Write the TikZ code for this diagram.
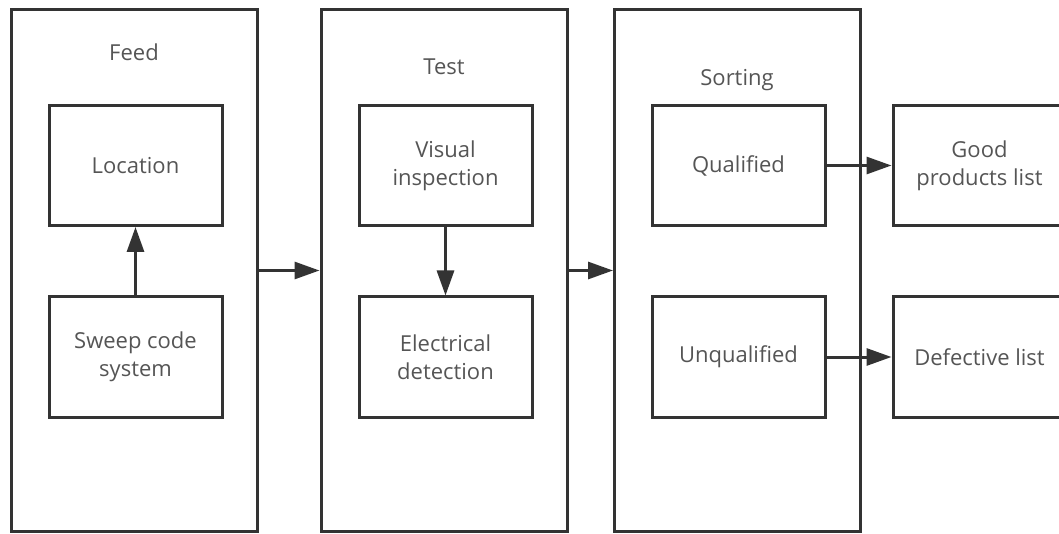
\documentclass[tikz,border=0pt]{standalone}
\usepackage{fontspec}
\setmainfont{Open Sans}
\usetikzlibrary{arrows.meta}

\definecolor{linegray}{RGB}{51,51,51}
\definecolor{textgray}{RGB}{85,85,85}

\tikzset{
	stage/.style={draw=linegray, line width=3pt, minimum width=246pt, minimum height=521pt, inner sep=0pt},
	unit/.style={draw=linegray, line width=3pt, minimum width=173pt, minimum height=120pt, inner sep=0pt,
		align=center, text=textgray, font=\fontsize{22}{28}\selectfont},
	title/.style={text=textgray, font=\fontsize{22}{28}\selectfont},
	flow/.style={draw=linegray, line width=3pt, -{Triangle[length=25pt,width=17pt]}}
}

\begin{document}
\begin{tikzpicture}[x=1pt, y=-1pt]
		\useasboundingbox (0,0) rectangle (1059,534);
		\clip (0,0) rectangle (1059,534);
		% the three stages
		\foreach \nm/\cx in {feed/134, test/444, sort/737.5}
			\node[stage] (\nm) at (\cx,270.5) {};
		\node[title] (feedt) at (134,52) {Feed};
		\node[title] (testt) at (444,67) {Test};
		\node[title] (sortt) at (737,80) {Sorting};
		
		\node[unit] (loc) at (135.5,165.5) {Location};
		\node[unit] (sweep) at (135.5,357) {Sweep code\\system};
		\node[unit] (vis) at (445.5,165.5) {Visual\\inspection};
		\node[unit] (elec) at (445.5,357) {Electrical\\detection};
		\node[unit] (qual) at (738.5,165.5) {Qualified};
		\node[unit] (unq) at (738.5,357) {Unqualified};
		\node[unit] (good) at (979.5,165.5) {Good\\products list};
		\node[unit] (defect) at (979.5,357) {Defective list};
		
		\draw[flow] (sweep) -- (loc);
		\draw[flow] (vis) -- (elec);
		\draw[flow] (feed.east) -- (test.west);
		\draw[flow] (test.east) -- (sort.west);
		\draw[flow] (qual) -- (good);
		\draw[flow] (unq) -- (defect);
	\end{tikzpicture}
\end{document}
